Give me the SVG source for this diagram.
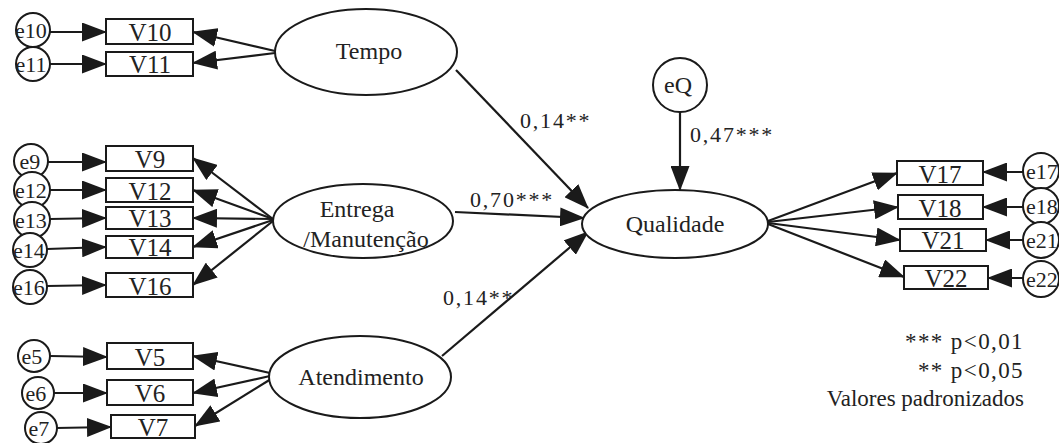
<svg xmlns="http://www.w3.org/2000/svg" width="1059" height="443" viewBox="0 0 1059 443" font-family="'Liberation Serif', 'Times New Roman', serif">
<defs>
<marker id="ah" markerUnits="userSpaceOnUse" markerWidth="25" markerHeight="19" refX="24" refY="9.5" orient="auto">
<path d="M0,0 L25,9.5 L0,19 z" fill="#1a1a1a"/>
</marker>
<style>
text{fill:#222;text-anchor:middle}
.n{font-size:24px}
.v{font-size:25px}
.e{font-size:22px}
.l{font-size:22px;text-anchor:start;letter-spacing:1.8px}
.g{font-size:23px;text-anchor:end}
rect,ellipse,circle{fill:#fff;stroke:#1a1a1a;stroke-width:2}
#edges line{stroke:#1a1a1a;stroke-width:2.2;marker-end:url(#ah)}
</style>
</defs>
<rect x="0" y="0" width="1059" height="443" style="fill:#fff;stroke:none"/>

<g id="edges">
<line x1="50" y1="32" x2="106" y2="32"/>
<line x1="50" y1="64" x2="106" y2="64"/>
<line x1="275" y1="51" x2="193" y2="32"/>
<line x1="275" y1="53" x2="193" y2="63"/>
<line x1="48" y1="162" x2="106" y2="162"/>
<line x1="50" y1="190" x2="106" y2="190"/>
<line x1="50" y1="219" x2="106" y2="218"/>
<line x1="47" y1="249" x2="106" y2="247"/>
<line x1="47" y1="286" x2="106" y2="285"/>
<line x1="273" y1="219" x2="193" y2="158"/>
<line x1="273" y1="219" x2="193" y2="190"/>
<line x1="273" y1="219" x2="193" y2="218"/>
<line x1="273" y1="220" x2="193" y2="247"/>
<line x1="273" y1="221" x2="193" y2="285"/>
<line x1="50" y1="356" x2="107" y2="357"/>
<line x1="53" y1="393" x2="107" y2="393"/>
<line x1="56" y1="428" x2="111" y2="427"/>
<line x1="270" y1="373" x2="193" y2="356"/>
<line x1="270" y1="376" x2="193" y2="393"/>
<line x1="271" y1="379" x2="195" y2="426"/>
<line x1="456" y1="70" x2="588" y2="208"/>
<line x1="455" y1="212" x2="584" y2="218"/>
<line x1="442" y1="356" x2="588" y2="232"/>
<line x1="680" y1="112" x2="680" y2="190"/>
<line x1="768" y1="221" x2="897" y2="173"/>
<line x1="768" y1="222" x2="898" y2="207"/>
<line x1="768" y1="223" x2="900" y2="240"/>
<line x1="768" y1="224" x2="904" y2="277"/>
<line x1="1023" y1="172" x2="983" y2="172"/>
<line x1="1023" y1="207" x2="983" y2="207"/>
<line x1="1023" y1="240" x2="986" y2="240"/>
<line x1="1023" y1="278" x2="988" y2="278"/>
</g>

<g id="labels">
<text class="l" x="520" y="128">0,14**</text>
<text class="l" x="470" y="207">0,70***</text>
<text class="l" x="690" y="142">0,47***</text>
<text class="l" x="443" y="305">0,14**</text>
</g>

<g id="tempo"><ellipse cx="366" cy="52" rx="91" ry="43"/><text class="n" x="369" y="59">Tempo</text></g>
<g id="entrega"><ellipse cx="363" cy="221" rx="90" ry="37"/><text class="n" x="357" y="217">Entrega</text><text class="n" x="366" y="247">/Manutenção</text></g>
<g id="atendimento"><ellipse cx="360" cy="377" rx="91" ry="41"/><text class="n" x="361" y="385">Atendimento</text></g>
<g id="qualidade"><ellipse cx="675" cy="224" rx="93" ry="34"/><text class="n" x="675" y="232">Qualidade</text></g>
<g id="eQ"><circle cx="680" cy="85" r="27"/><text class="n" x="678" y="93">eQ</text></g>

<g id="V10"><rect x="106" y="19" width="87" height="25"/><text class="v" x="150" y="41">V10</text></g>
<g id="V11"><rect x="106" y="52" width="87" height="24"/><text class="v" x="150" y="73">V11</text></g>
<g id="V9"><rect x="106" y="146" width="87" height="25"/><text class="v" x="150" y="168">V9</text></g>
<g id="V12"><rect x="106" y="178" width="87" height="24"/><text class="v" x="150" y="200">V12</text></g>
<g id="V13"><rect x="106" y="207" width="87" height="22"/><text class="v" x="150" y="227">V13</text></g>
<g id="V14"><rect x="106" y="236" width="87" height="22"/><text class="v" x="150" y="256">V14</text></g>
<g id="V16"><rect x="106" y="273" width="87" height="24"/><text class="v" x="150" y="295">V16</text></g>
<g id="V5"><rect x="107" y="343" width="86" height="26"/><text class="v" x="150" y="366">V5</text></g>
<g id="V6"><rect x="107" y="380" width="86" height="25"/><text class="v" x="150" y="402">V6</text></g>
<g id="V7"><rect x="111" y="415" width="84" height="23"/><text class="v" x="153" y="436">V7</text></g>
<g id="V17"><rect x="897" y="161" width="86" height="24"/><text class="v" x="940" y="183">V17</text></g>
<g id="V18"><rect x="898" y="195" width="85" height="24"/><text class="v" x="940" y="217">V18</text></g>
<g id="V21"><rect x="900" y="229" width="86" height="22"/><text class="v" x="943" y="249">V21</text></g>
<g id="V22"><rect x="904" y="266" width="84" height="23"/><text class="v" x="946" y="287">V22</text></g>

<g id="e10"><circle cx="33" cy="30" r="17"/><text class="e" x="31" y="38">e10</text></g>
<g id="e11"><circle cx="33" cy="64" r="17"/><text class="e" x="31" y="72">e11</text></g>
<g id="e9"><circle cx="31" cy="161" r="17"/><text class="e" x="30" y="169">e9</text></g>
<g id="e12"><circle cx="32" cy="190" r="18"/><text class="e" x="31" y="198">e12</text></g>
<g id="e13"><circle cx="32" cy="220" r="18"/><text class="e" x="31" y="228">e13</text></g>
<g id="e14"><circle cx="30" cy="250" r="17"/><text class="e" x="29" y="258">e14</text></g>
<g id="e16"><circle cx="30" cy="287" r="17"/><text class="e" x="29" y="295">e16</text></g>
<g id="e5"><circle cx="34" cy="356" r="16"/><text class="e" x="32" y="364">e5</text></g>
<g id="e6"><circle cx="38" cy="393" r="16"/><text class="e" x="36" y="401">e6</text></g>
<g id="e7"><circle cx="41" cy="428" r="16"/><text class="e" x="39" y="436">e7</text></g>
<g id="e17"><circle cx="1041" cy="171" r="18"/><text class="e" x="1042" y="179">e17</text></g>
<g id="e18"><circle cx="1041" cy="206" r="18"/><text class="e" x="1042" y="214">e18</text></g>
<g id="e21"><circle cx="1041" cy="240" r="18"/><text class="e" x="1042" y="248">e21</text></g>
<g id="e22"><circle cx="1041" cy="279" r="18"/><text class="e" x="1042" y="287">e22</text></g>

<g id="legend">
<text class="g" x="1024" y="349" letter-spacing="1.4">*** p&lt;0,01</text>
<text class="g" x="1024" y="378" letter-spacing="1.4">** p&lt;0,05</text>
<text class="g" x="1024" y="406">Valores padronizados</text>
</g>
</svg>
